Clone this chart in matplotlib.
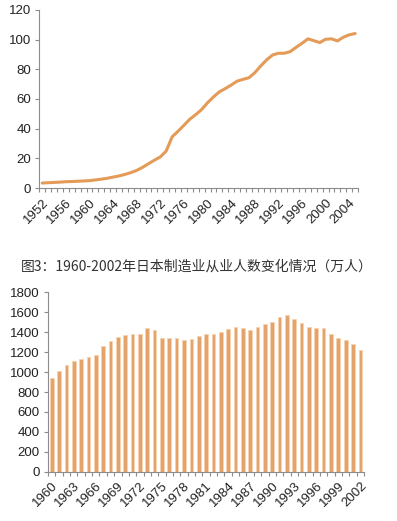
import numpy as np
import matplotlib.pyplot as plt

plt.rcParams['font.family'] = ['Liberation Sans', 'Noto Sans CJK SC', 'DejaVu Sans']

# top chart: index line 1952-2005
line_years = list(range(1952, 2006))
line_values = [3.4, 3.6, 3.8, 4.0, 4.3, 4.4, 4.6, 4.8, 5.0, 5.5, 6.0, 6.6, 7.4, 8.2, 9.2, 10.4,
               11.9, 14.0, 16.4, 18.8, 21.0, 25.0, 34.5, 38.3, 42.3, 46.4, 49.5, 52.9,
               57.5, 61.4, 64.8, 67.0, 69.4, 72.0, 73.2, 74.3, 77.7, 82.2, 86.3, 89.6,
               90.8, 90.8, 91.9, 94.8, 97.5, 100.5, 99.3, 98.0, 100.2, 100.5, 99.1, 101.6,
               103.2, 104.1]

# bottom chart: manufacturing employment 1960-2002 (10k persons)
bar_years = list(range(1960, 2003))
bar_values = [946, 1013, 1070, 1108, 1136, 1150, 1176, 1260, 1311, 1348, 1377, 1383, 1381,
              1443, 1427, 1346, 1345, 1340, 1326, 1333, 1367, 1385, 1380, 1406, 1438, 1453,
              1444, 1425, 1454, 1484, 1505, 1550, 1569, 1530, 1496, 1456, 1445, 1442, 1382,
              1345, 1321, 1284, 1222]

title = '图3：1960-2002年日本制造业从业人数变化情况（万人）'

line_color = '#E49B58'
bar_color = '#E4A36B'
axis_color = '#8C8C8C'
text_color = '#222222'


def style_axes(ax, n):
    for s in ['top', 'right']:
        ax.spines[s].set_visible(False)
    for s in ['left', 'bottom']:
        ax.spines[s].set_color(axis_color)
        ax.spines[s].set_linewidth(0.8)
    ax.set_xlim(-0.5, n - 0.5)
    ax.set_xticks(np.arange(-0.5, n, 1.0), minor=True)
    ax.tick_params(axis='x', which='minor', length=3, color=axis_color, width=0.8)
    ax.tick_params(axis='x', which='major', length=0, labelsize=9.5, labelcolor=text_color, pad=6)
    ax.tick_params(axis='y', length=3, color=axis_color, width=0.8, labelsize=9.5,
                   labelcolor=text_color, pad=3)


fig = plt.figure(figsize=(3.97, 5.21), dpi=100)

ax1 = fig.add_axes([0.099, 0.639, 0.803, 0.342])
x1 = np.arange(len(line_years))
ax1.plot(x1, line_values, color=line_color, linewidth=2.2, solid_joinstyle='round',
         solid_capstyle='round')
ax1.set_ylim(0, 120)
ax1.set_yticks(range(0, 121, 20))
style_axes(ax1, len(line_years))
idx1 = [i for i, y in enumerate(line_years) if (y - 1952) % 4 == 0]
ax1.set_xticks(idx1)
ax1.set_xticklabels([str(line_years[i]) for i in idx1], rotation=45, ha='right',
                    rotation_mode='anchor')

fig.text(0.497, 0.489, title, ha='center', va='center', fontsize=10, color='#333333',
         family=['Noto Sans CJK SC', 'DejaVu Sans'])

ax2 = fig.add_axes([0.121, 0.0946, 0.796, 0.344])
x2 = np.arange(len(bar_years))
ax2.bar(x2, bar_values, width=0.5, color=bar_color, edgecolor='#F6D3B0', linewidth=0.6)
ax2.set_ylim(0, 1800)
ax2.set_yticks(range(0, 1801, 200))
style_axes(ax2, len(bar_years))
idx2 = [i for i, y in enumerate(bar_years) if (y - 1960) % 3 == 0]
ax2.set_xticks(idx2)
ax2.set_xticklabels([str(bar_years[i]) for i in idx2], rotation=45, ha='right',
                    rotation_mode='anchor')

fig.savefig('out.png', dpi=100)
